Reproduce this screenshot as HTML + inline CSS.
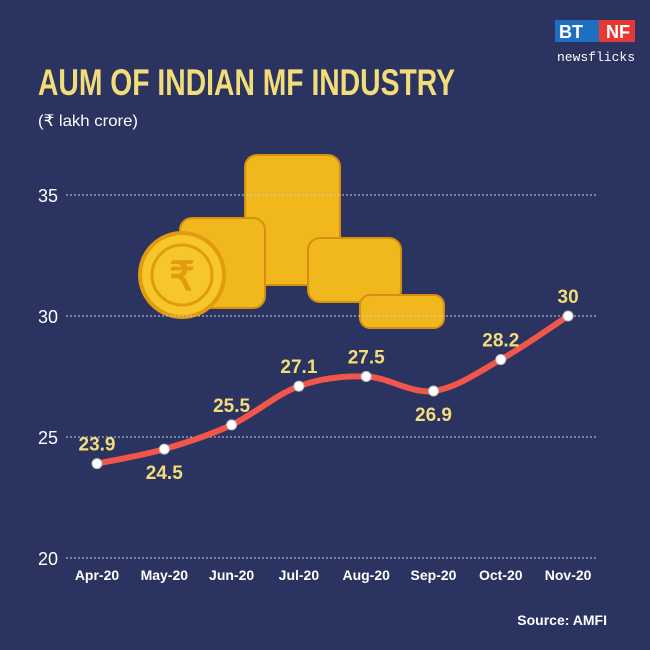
<!DOCTYPE html>
<html><head><meta charset="utf-8"><style>
body{margin:0;background:#2b3360;}
svg{display:block;font-family:"Liberation Sans",sans-serif;}
</style></head><body>
<svg id="c" width="650" height="650" viewBox="0 0 650 650">
<rect width="650" height="650" fill="#2b3360"/>
<text x="38" y="95" fill="#f3dd7a" font-size="37" font-weight="bold" textLength="417" lengthAdjust="spacingAndGlyphs">AUM OF INDIAN MF INDUSTRY</text>
<text x="38" y="126" fill="#ffffff" font-size="16" textLength="100" lengthAdjust="spacingAndGlyphs">(₹ lakh crore)</text>
<g>
<rect x="555" y="20" width="44" height="22" fill="#1f6fc0"/>
<rect x="599" y="20" width="36" height="22" fill="#e53935"/>
<text x="559" y="38" fill="#fff" font-size="18" font-weight="bold">BT</text>
<text x="606" y="38" fill="#fff" font-size="18" font-weight="bold">NF</text>
<text x="557" y="61" fill="#fff" font-size="13" font-family="Liberation Mono,monospace">newsflicks</text>
</g>
<g>
<g fill="#f0b81c" stroke="#d6900f" stroke-width="2">
<rect x="245" y="155" width="95" height="130" rx="12"/>
<rect x="180" y="218" width="85" height="90" rx="12"/>
<rect x="308" y="238" width="93" height="64" rx="12"/>
<rect x="360" y="295" width="84" height="33" rx="10"/>
</g>
<circle cx="182" cy="275" r="42" fill="#f7c62a" stroke="#e09b10" stroke-width="4"/>
<circle cx="182" cy="275" r="30" fill="none" stroke="#e09b10" stroke-width="3"/>
<text x="182" y="290" text-anchor="middle" fill="#e09b10" font-size="40" font-weight="bold">₹</text>
</g>
<g id="grid"></g><g id="plot"></g>
<text x="607" y="625" text-anchor="end" fill="#fff" font-size="14" font-weight="bold">Source: AMFI</text>
</svg>
<script>
const categories=["Apr-20","May-20","Jun-20","Jul-20","Aug-20","Sep-20","Oct-20","Nov-20"];
const values=[23.9,24.5,25.5,27.1,27.5,26.9,28.2,30];
const yTicks=[20,25,30,35];
const labelBelow=[false,true,false,false,false,true,false,false];
const NS="http://www.w3.org/2000/svg";
const x=i=>97+i*67.3;
const y=v=>558-(v-20)*24.2;
function mk(t,a,p){const e=document.createElementNS(NS,t);for(const k in a)e.setAttribute(k,a[k]);p.appendChild(e);return e;}
const g=document.getElementById('grid'),p=document.getElementById('plot');
yTicks.forEach(t=>{
 const l=mk('line',{x1:66,x2:598,y1:y(t),y2:y(t),stroke:'#c8cce0','stroke-width':1,'stroke-dasharray':'2,2'},g);
 
 
 const tx=mk('text',{x:58,y:y(t)+7,'text-anchor':'end',fill:'#fff','font-size':18},g);
 tx.textContent=t;
 
 
});
categories.forEach((c,i)=>{
 const tx=mk('text',{x:x(i),y:580,'text-anchor':'middle',fill:'#fff','font-size':14,'font-weight':'bold'},g);
 tx.textContent=c;
 
 
});
const pts=values.map((v,i)=>[x(i),y(v)]);
let d='M'+pts[0][0]+','+pts[0][1];
for(let i=0;i<pts.length-1;i++){
 const p0=pts[Math.max(0,i-1)],p1=pts[i],p2=pts[i+1],p3=pts[Math.min(pts.length-1,i+2)];
 const c1=[p1[0]+(p2[0]-p0[0])/6,p1[1]+(p2[1]-p0[1])/6],c2=[p2[0]-(p3[0]-p1[0])/6,p2[1]-(p3[1]-p1[1])/6];
 d+=` C${c1[0]},${c1[1]} ${c2[0]},${c2[1]} ${p2[0]},${p2[1]}`;
}
const line=mk('path',{d:d,fill:'none',stroke:'#f0564a','stroke-width':6,'stroke-linecap':'round'},p);


values.forEach((v,i)=>{
 const c=mk('circle',{cx:x(i),cy:y(v),r:5,fill:'#fff',stroke:'#c0c0c0','stroke-width':1},p);
 
 
 const t=mk('text',{x:x(i),y:labelBelow[i]?y(v)+30:y(v)-13,'text-anchor':'middle',fill:'#f3dd7a','font-size':19,'font-weight':'bold'},p);
 t.textContent=v;
 
 
});
</script>
</body></html>
